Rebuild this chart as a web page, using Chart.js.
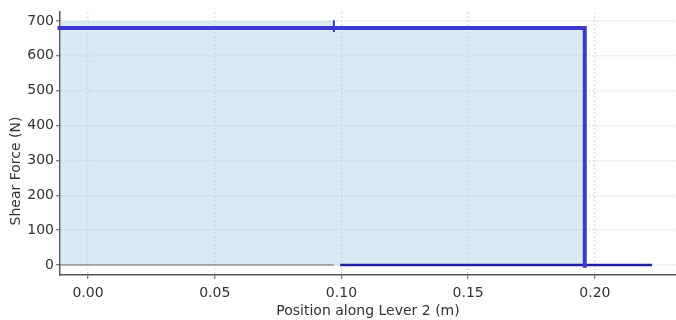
<!DOCTYPE html>
<html>
<head>
<meta charset="utf-8">
<script src="https://cdn.jsdelivr.net/npm/chart.js@4/dist/chart.umd.min.js"></script>
<style>
  html, body { margin: 0; padding: 0; background: #fff; }
  #wrap { width: 676px; height: 320px; }
</style>
</head>
<body>
<div id="wrap"><canvas id="chartShear"></canvas></div>
<script>
// Shear force along lever 2
var xTicks = [0, 0.05, 0.10, 0.15, 0.20];
var yTicks = [0, 100, 200, 300, 400, 500, 600, 700];

// shaded region (x, V)
var regionX = [-0.011, 0.097, 0.097, 0.196, 0.196];
var regionV = [700, 700, 680, 680, 0];

// main shear line
var shearX = [-0.012, 0.196, 0.196];
var shearV = [680, 680, -8];

// navy segment on the zero line
var zeroSegX = [0.0995, 0.2225];
var zeroSegV = [0, 0];

// thin grey zero reference
var baseX = [-0.011, 0.097];
var baseV = [0, 0];

// little step mark at x = 0.097
var markX = [0.097, 0.097];
var markV = [668, 702];

function pts(xs, ys) {
    return xs.map(function(x, i) { return { x: x, y: ys[i] }; });
}

var yTitle = {
    id: 'yTitle',
    afterDraw: function(chart) {
        var ctx = chart.ctx;
        ctx.save();
        ctx.translate(16, 171);
        ctx.rotate(-Math.PI / 2);
        ctx.font = '14px "DejaVu Sans"';
        ctx.fillStyle = '#333';
        ctx.textAlign = 'center';
        ctx.textBaseline = 'middle';
        ctx.fillText('Shear Force (N)', 0, 0);
        ctx.restore();
    }
};

var font = { family: '"DejaVu Sans"', size: 14 };
var gridOpts = {
    color: '#e2e2e2',
    lineWidth: 1.5,
    tickColor: '#555',
    tickBorderDash: [],
    tickLength: 4,
    tickWidth: 1
};
// v4 takes the grid line dash from border.dash
var borderOpts = { color: '#555', width: 1.5, dash: [2, 2] };

// datasets are painted last-to-first, so the shaded area goes at the end
new Chart(document.getElementById('chartShear'), {
    type: 'line',
    data: {
        datasets: [
            {
                data: pts(shearX, shearV),
                borderColor: '#3a3ad2',
                borderWidth: 4,
                pointRadius: 0,
                fill: false,
                clip: false
            },
            {
                data: pts(markX, markV),
                borderColor: '#3a3ad2',
                borderWidth: 2,
                pointRadius: 0,
                fill: false
            },
            {
                data: pts(zeroSegX, zeroSegV),
                borderColor: '#1e1ea0',
                borderWidth: 2.5,
                pointRadius: 0,
                fill: false
            },
            {
                data: pts(baseX, baseV),
                borderColor: '#666',
                borderWidth: 1,
                pointRadius: 0,
                fill: false
            },
            {
                data: pts(regionX, regionV),
                borderWidth: 0,
                pointRadius: 0,
                fill: 'origin',
                backgroundColor: 'rgba(173,216,230,0.5)'
            }
        ]
    },
    options: {
        responsive: true,
        maintainAspectRatio: false,
        animation: false,
        layout: { padding: { top: 12, right: 0, left: 0, bottom: 0 } },
        plugins: { legend: { display: false }, tooltip: { enabled: false } },
        scales: {
            x: {
                type: 'linear',
                min: -0.01105,
                max: 0.232,
                z: 1,
                afterBuildTicks: function(s) { s.ticks = xTicks.map(function(v) { return { value: v }; }); },
                afterFit: function(s) { s.height = 45; },
                grid: gridOpts,
                border: borderOpts,
                ticks: {
                    font: font,
                    color: '#333',
                    padding: 6,
                    maxRotation: 0,
                    callback: function(v) { return Number(v).toFixed(2); }
                },
                title: {
                    display: true,
                    text: 'Position along Lever 2 (m)',
                    font: font,
                    color: '#333',
                    padding: { top: 0, bottom: 0 }
                }
            },
            y: {
                type: 'linear',
                min: -28.7,
                max: 725.8,
                z: 1,
                afterBuildTicks: function(s) { s.ticks = yTicks.map(function(v) { return { value: v }; }); },
                afterFit: function(s) { s.width = 60; },
                grid: gridOpts,
                border: borderOpts,
                ticks: {
                    font: font,
                    color: '#333',
                    padding: 2
                }
            }
        }
    },
    plugins: [yTitle]
});
</script>
</body>
</html>
